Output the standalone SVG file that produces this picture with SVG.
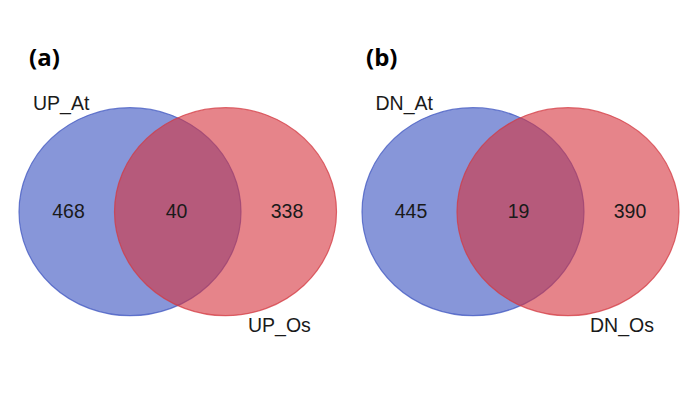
<svg xmlns="http://www.w3.org/2000/svg" width="700" height="400" viewBox="0 0 700 400">
<style>
.bg{fill:#ffffff}
.blue{fill:#3e55c2;fill-opacity:0.62;stroke:#3f56c0;stroke-opacity:0.75;stroke-width:1.2}
.red{fill:#d6323c;fill-opacity:0.6;stroke:#d33a42;stroke-opacity:0.75;stroke-width:1.2}
.lbl{font-family:"Liberation Sans",Arial,sans-serif;font-size:19.5px;fill:#1a1a1a}
.num{font-family:"Liberation Sans",Arial,sans-serif;font-size:19.5px;fill:#1a1a1a;text-anchor:middle}
.tag{font-family:"Open Sans","Liberation Sans",sans-serif;font-size:24px;font-weight:bold;fill:#000}
</style>
<rect class="bg" x="0" y="0" width="700" height="400"/>
<g id="panel-a">
  <text class="tag" x="29" y="66">(a)</text>
  <g id="UP_At"><ellipse class="blue" cx="130" cy="211.7" rx="111" ry="104"/></g>
  <g id="UP_Os"><ellipse class="red" cx="225.5" cy="211.7" rx="111" ry="104"/></g>
  <text class="lbl" x="33" y="110">UP_At</text>
  <text class="lbl" x="248" y="331.5">UP_Os</text>
  <text class="num" x="68.5" y="218">468</text>
  <text class="num" x="176.5" y="218">40</text>
  <text class="num" x="287" y="218">338</text>
</g>
<g id="panel-b">
  <text class="tag" x="366" y="66">(b)</text>
  <g id="DN_At"><ellipse class="blue" cx="473" cy="211.7" rx="111" ry="104"/></g>
  <g id="DN_Os"><ellipse class="red" cx="568" cy="211.7" rx="111" ry="104"/></g>
  <text class="lbl" x="375.5" y="110">DN_At</text>
  <text class="lbl" x="590" y="331.5">DN_Os</text>
  <text class="num" x="411" y="218">445</text>
  <text class="num" x="518.5" y="218">19</text>
  <text class="num" x="630" y="218">390</text>
</g>
<g id="connectors"></g>
</svg>
